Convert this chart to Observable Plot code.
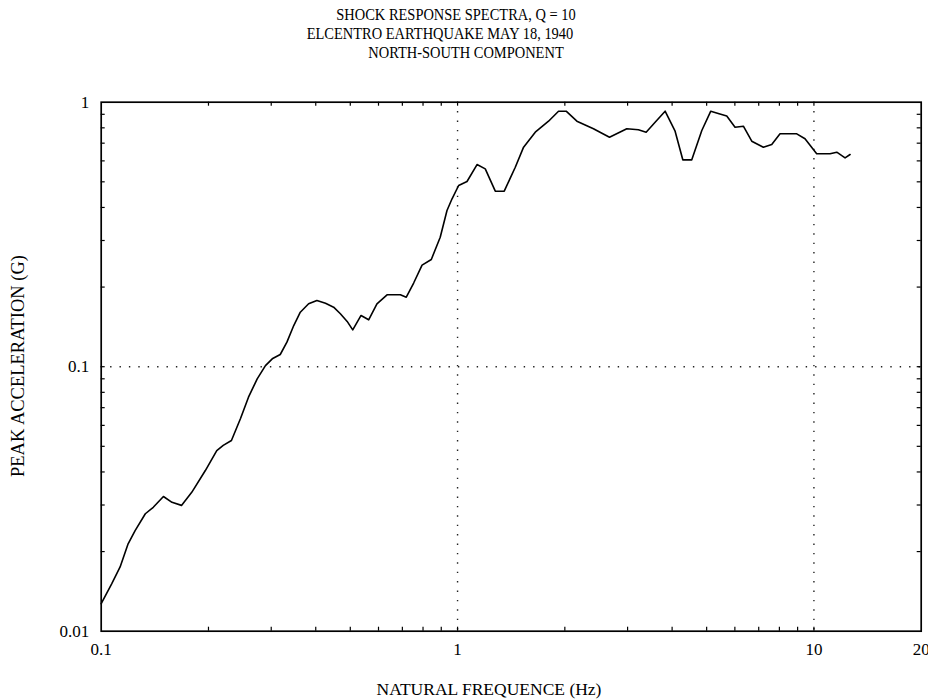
<!DOCTYPE html>
<html>
<head>
<meta charset="utf-8">
<script src="https://cdn.jsdelivr.net/npm/d3@7"></script>
<script src="https://cdn.jsdelivr.net/npm/@observablehq/plot@0.6"></script>
<style>
  body { margin: 0; background: #fff; }
  #wrap { position: relative; width: 928px; height: 700px; font-family: "Liberation Serif", "DejaVu Serif", serif; color: #000; }
  #chart { position: absolute; left: 0; top: 0; }
  .t { position: absolute; white-space: nowrap; font-size: 17px; line-height: 1; transform: translate(-50%, -50%) scaleX(0.85); }
  .xl { position: absolute; white-space: nowrap; font-size: 17.5px; line-height: 1; transform: translate(-50%, -50%); }
  .yl { position: absolute; white-space: nowrap; font-size: 18.5px; line-height: 1; transform: translate(-50%, -50%) rotate(-90deg); }
</style>
</head>
<body>
<div id="wrap">
  <div id="chart"></div>
  <div class="t" style="left:456px; top:14px;">SHOCK RESPONSE SPECTRA, Q = 10</div>
  <div class="t" style="left:440px; top:33px;">ELCENTRO EARTHQUAKE MAY 18, 1940</div>
  <div class="t" style="left:466px; top:52px;">NORTH-SOUTH COMPONENT</div>
  <div class="xl" style="left:489px; top:690px;">NATURAL FREQUENCE (Hz)</div>
  <div class="yl" style="left:18px; top:366px;">PEAK ACCELERATION (G)</div>
</div>
<script>
// Natural frequency (Hz)
const freq = [0.1, 0.107, 0.113, 0.119, 0.1245, 0.133, 0.140, 0.1495, 0.158, 0.168,
  0.1795, 0.196, 0.211, 0.220, 0.232, 0.246, 0.259, 0.274, 0.289, 0.302,
  0.318, 0.332, 0.347, 0.362, 0.382, 0.403, 0.426, 0.449, 0.469, 0.490,
  0.508, 0.536, 0.563, 0.594, 0.634, 0.691, 0.718, 0.753, 0.795, 0.844,
  0.894, 0.934, 0.965, 1.007, 1.063, 1.134, 1.196, 1.276, 1.352, 1.452,
  1.532, 1.652, 1.80, 1.92, 2.017, 2.162, 2.406, 2.669, 2.985, 3.217,
  3.382, 3.584, 3.823, 4.078, 4.286, 4.542, 4.846, 5.135, 5.418, 5.694,
  6.007, 6.339, 6.692, 7.213, 7.615, 8.033, 8.95, 9.44, 10.18, 11.10,
  11.59, 12.23, 12.63];
// Peak acceleration (G)
const accel = [0.0127, 0.0151, 0.0175, 0.0214, 0.0240, 0.0278, 0.0294, 0.0323, 0.0307, 0.0299,
  0.0335, 0.0405, 0.0482, 0.0504, 0.0526, 0.0637, 0.0767, 0.0900, 0.1010, 0.1071,
  0.1112, 0.1238, 0.1431, 0.1607, 0.1729, 0.1779, 0.1738, 0.1679, 0.1585, 0.1483,
  0.1378, 0.1562, 0.1504, 0.1729, 0.1870, 0.1870, 0.1831, 0.2072, 0.2422, 0.2543,
  0.3088, 0.3896, 0.4313, 0.4842, 0.5013, 0.5812, 0.5598, 0.4608, 0.4608, 0.5677,
  0.6760, 0.7700, 0.8475, 0.9246, 0.9246, 0.8475, 0.7935, 0.7374, 0.7935, 0.7864,
  0.7700, 0.8400, 0.9246, 0.7767, 0.6055, 0.6055, 0.7816, 0.9246, 0.9042, 0.8867,
  0.8045, 0.8115, 0.7119, 0.6760, 0.6920, 0.7594, 0.7594, 0.7272, 0.6381, 0.6381,
  0.6471, 0.6162, 0.6342];

const xTickLabels = [0.1, 1, 10, 20];
const yTickLabels = [0.01, 0.1, 1];
const xMinorTicks = [0.2, 0.3, 0.4, 0.5, 0.6, 0.7, 0.8, 0.9, 1, 2, 3, 4, 5, 6, 7, 8, 9, 10];
const yMinorTicks = [0.02, 0.03, 0.04, 0.05, 0.06, 0.07, 0.08, 0.09, 0.1, 0.2, 0.3, 0.4, 0.5, 0.6, 0.7, 0.8, 0.9];
const xGrid = [1, 10];
const yGrid = [0.1];

const data = freq.map((f, i) => ({f, a: accel[i]}));

const mL = 100.7, mR = 7.3, mT = 101.7, mB = 69.3, W = 928, H = 700;
const fw = W - mL - mR, fh = H - mT - mB, tl = 4;

const chart = Plot.plot({
  width: W, height: H,
  marginLeft: mL, marginRight: mR, marginTop: mT, marginBottom: mB,
  style: {fontFamily: "Liberation Serif, serif", fontSize: "17px", background: "transparent", color: "#000", overflow: "visible"},
  x: {type: "log", domain: [0.1, 20]},
  y: {type: "log", domain: [0.01, 1]},
  marks: [
    Plot.ruleX(xGrid, {stroke: "#222", strokeWidth: 1.4, strokeDasharray: "1.4,8"}),
    Plot.ruleY(yGrid, {stroke: "#222", strokeWidth: 1.4, strokeDasharray: "1.4,8"}),
    Plot.tickX(xMinorTicks, {x: d => d, stroke: "#000", strokeWidth: 1.2, insetTop: fh - tl}),
    Plot.tickX(xMinorTicks, {x: d => d, stroke: "#000", strokeWidth: 1.2, insetBottom: fh - tl}),
    Plot.tickY(yMinorTicks, {y: d => d, stroke: "#000", strokeWidth: 1.2, insetRight: fw - tl}),
    Plot.tickY(yMinorTicks, {y: d => d, stroke: "#000", strokeWidth: 1.2, insetLeft: fw - tl}),
    Plot.line(data, {x: "f", y: "a", stroke: "#000", strokeWidth: 1.6}),
    Plot.frame({stroke: "#000", strokeWidth: 1.7}),
    Plot.axisX(xTickLabels, {tickSize: 0, tickPadding: 12, tickFormat: d => String(d), label: null, fontSize: 17}),
    Plot.axisY(yTickLabels, {tickSize: 0, tickPadding: 12, tickFormat: d => String(d), label: null, fontSize: 17})
  ]
});
document.getElementById("chart").appendChild(chart);
</script>
</body>
</html>
